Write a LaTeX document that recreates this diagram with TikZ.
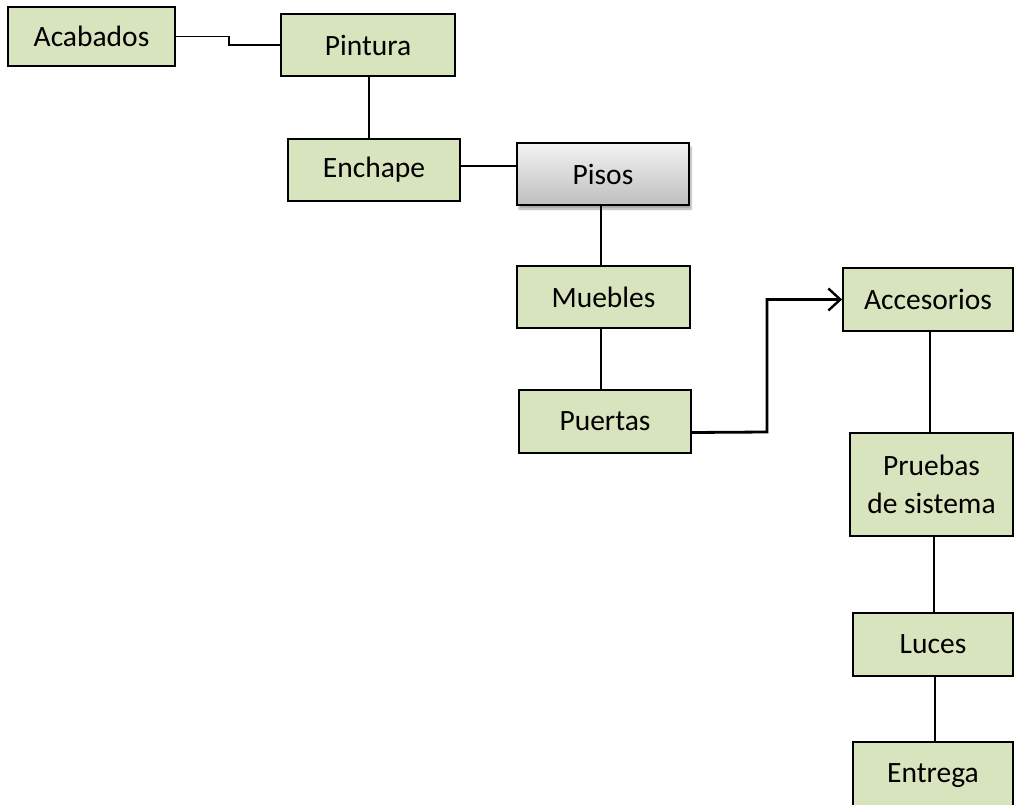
\documentclass[tikz,border=0pt]{standalone}
\usepackage{fontspec}
\setmainfont{Carlito}
\usetikzlibrary{arrows.meta,shadows.blur}
\definecolor{boxgreen}{HTML}{D7E4BD}
\definecolor{pisotop}{HTML}{F4F4F4}
\definecolor{pisobot}{HTML}{BEBEBE}
\tikzset{
  box/.style={draw=black, line width=1.8pt, fill=boxgreen, inner sep=0pt,
    align=center, font=\fontsize{29.5}{38}\selectfont},
  graybox/.style={box, fill=none, top color=pisotop, bottom color=pisobot,
    blur shadow={shadow xshift=2pt, shadow yshift=-4pt, shadow opacity=35, shadow blur steps=6}},
  link/.style={draw=black, line width=1.8pt},
  flow/.style={draw=black, line width=2.8pt, -{Straight Barb[length=12pt,width=22pt,line width=2.4pt]}}
}
\begin{document}
\begin{tikzpicture}[x=1pt,y=1pt]
  \useasboundingbox (0,0) rectangle (1014,-805);

  % left chain
  \node[box, minimum width=167pt, minimum height=59pt] (acab) at (91.5,-36.5) {Acabados};
  \node[box, minimum width=174pt, minimum height=62pt] (pint) at (368,-45) {Pintura};
  \node[box, minimum width=172pt, minimum height=62pt] (ench) at (374,-170) {Enchape};
  \node[graybox, minimum width=172pt, minimum height=62pt] (pisos) at (603,-174) {Pisos};
  \node[box, minimum width=173pt, minimum height=62pt] (mueb) at (603.5,-297) {Muebles};
  \node[box, minimum width=172pt, minimum height=63pt] (puer) at (605,-421.5) {Puertas};

  % right column
  \node[box, minimum width=170pt, minimum height=63pt] (acc) at (928,-299.5) {Accesorios};
  \node[box, minimum width=163pt, minimum height=103pt] (prue) at (931.5,-484.5) {Pruebas\\de sistema};
  \node[box, minimum width=160pt, minimum height=63pt] (luce) at (933,-644.5) {Luces};
  \node[box, minimum width=160pt, minimum height=68pt] (entr) at (933,-776) {Entrega};

  % connectors
  \draw[link] (acab.east) -- ++(53pt,0) |- (pint.west);
  \draw[link] ([xshift=1pt]pint.south) -- ([xshift=1pt]pint.south |- ench.north);
  \draw[link] ([yshift=4pt]ench.east) -- ([yshift=4pt]ench.east -| pisos.west);
  \draw[link] ([xshift=-2pt]pisos.south) -- ([xshift=-2pt]pisos.south |- mueb.north);
  \draw[link] ([xshift=-2.5pt]mueb.south) -- ([xshift=-2.5pt]mueb.south |- puer.north);
  \coordinate (bend) at (767,-432);
  \draw[flow] ([yshift=-11pt]puer.east) -- (bend) |- (acc.west);
  \draw[link] ([xshift=2pt]acc.south) -- ([xshift=2pt]acc.south |- prue.north);
  \draw[link] ([xshift=2.5pt]prue.south) -- ([xshift=2.5pt]prue.south |- luce.north);
  \draw[link] ([xshift=2pt]luce.south) -- ([xshift=2pt]luce.south |- entr.north);
\end{tikzpicture}
\end{document}
